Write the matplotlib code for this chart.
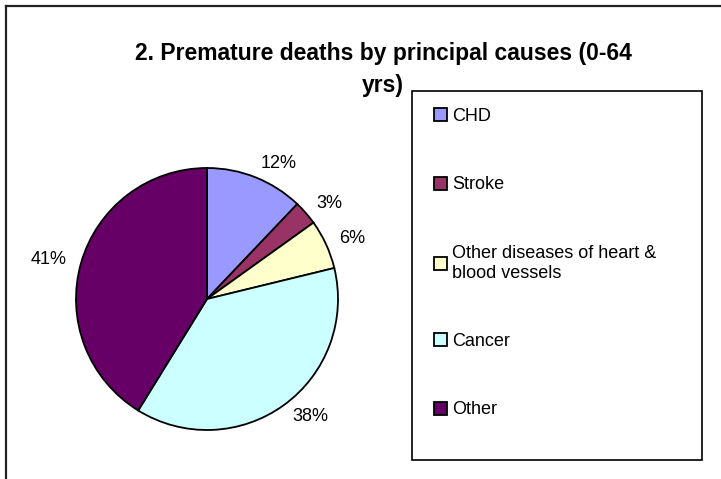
import matplotlib.pyplot as plt
from matplotlib.lines import Line2D
from matplotlib.patches import Rectangle

plt.rcParams['font.family'] = ['Liberation Sans', 'DejaVu Sans']

# Data (share of premature deaths, 0-64 yrs)
causes = ['CHD', 'Stroke', 'Other diseases of heart &\nblood vessels', 'Cancer', 'Other']
shares = [12.1, 3.0, 6.1, 37.6, 41.2]
pct_labels = ['12%', '3%', '6%', '38%', '41%']
colors = ['#9999FF', '#993366', '#FFFFCC', '#CCFFFF', '#660066']

W, H = 721, 479
fig = plt.figure(figsize=(W / 100, H / 100), dpi=100)

# Pie sits in a square axes: centre (207, 299) px, radius 131 px
cx, cy, r = 207, 299, 131
ax = fig.add_axes([(cx - r) / W, (H - cy - r) / H, 2 * r / W, 2 * r / H])
wedges, texts = ax.pie(shares, labels=pct_labels, colors=colors,
                       startangle=90, counterclock=False,
                       labeldistance=1.11,
                       wedgeprops=dict(edgecolor='black', linewidth=1.3),
                       textprops=dict(fontsize=13, color='black'))
ax.set_xlim(-1, 1)
ax.set_ylim(-1, 1)
ax.set_aspect('equal')

# Title, two lines like the original (baseline = last line for multi-line text)
fig.text(383 / W, 1 - 92 / H, '2. Premature deaths by principal causes (0-64\nyrs)',
         ha='center', va='baseline', fontsize=16.5, fontweight='bold',
         linespacing=1.48)

# Legend box drawn separately so it can be wider than its content
fig.add_artist(Rectangle((412 / W, 1 - 460 / H), 290 / W, 369 / H,
                         transform=fig.transFigure, fill=False,
                         edgecolor='black', linewidth=1.2))
leg = fig.legend(wedges, causes, loc='upper left',
                 bbox_to_anchor=(434 / W, 1 - 108 / H),
                 frameon=False, fontsize=13, borderpad=0, borderaxespad=0,
                 handlelength=0.72, handleheight=0.72, handletextpad=0.3,
                 labelspacing=2.85)
for h in leg.legend_handles:
    h.set_edgecolor('black')
    h.set_linewidth(1.3)

# Outer chart frame (only top and left edges fall inside the picture)
fig.add_artist(Line2D([6 / W, 6 / W], [0, 1 - 6 / H], transform=fig.transFigure,
                      color='#222222', linewidth=1.6))
fig.add_artist(Line2D([6 / W, 1], [1 - 6 / H, 1 - 6 / H], transform=fig.transFigure,
                      color='#222222', linewidth=1.6))

fig.savefig('out.png', dpi=100)
